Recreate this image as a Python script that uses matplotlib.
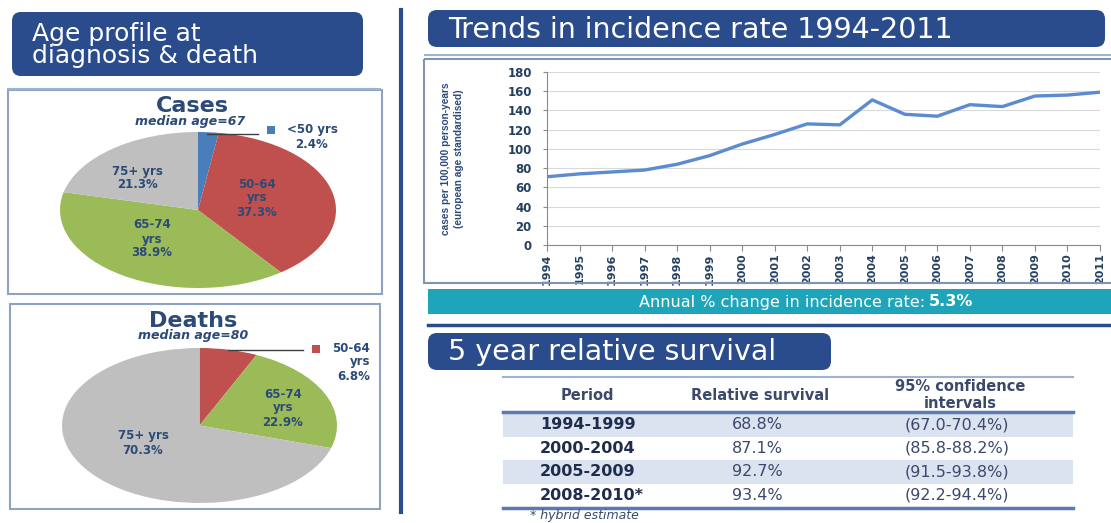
import matplotlib.pyplot as plt
from matplotlib.patches import FancyBboxPatch, Rectangle

# ---------- data ----------
case_groups = ['<50 yrs', '50-64\nyrs', '65-74\nyrs', '75+ yrs']
case_pct = [2.4, 37.3, 38.9, 21.3]
death_groups = ['50-64\nyrs', '65-74\nyrs', '75+ yrs']
death_pct = [6.8, 22.9, 70.3]
case_median = 67
death_median = 80

years = [1994, 1995, 1996, 1997, 1998, 1999, 2000, 2001, 2002,
         2003, 2004, 2005, 2006, 2007, 2008, 2009, 2010, 2011]
incidence = [71, 74, 76, 78, 84, 93, 105, 115, 126,
             125, 151, 136, 134, 146, 144, 155, 156, 159]
annual_change = 5.3

periods = ['1994-1999', '2000-2004', '2005-2009', '2008-2010*']
survival = [68.8, 87.1, 92.7, 93.4]
ci_low = [67.0, 85.8, 91.5, 92.2]
ci_high = [70.4, 88.2, 93.8, 94.4]

# ---------- colours ----------
navy = '#2b4c8c'
txt_blue = '#2c4a78'
teal = '#1fa5b9'
c_blue, c_red, c_green, c_gray = '#4a7ebb', '#c0504d', '#9bbb59', '#bfbfbf'

W, H = 1111, 523
fig = plt.figure(figsize=(W / 100, H / 100), dpi=100)
fig.patch.set_facecolor('white')


def rect(x0, y0, x1, y1):
    # pixel box (top-left origin) -> figure fraction rect
    return [x0 / W, 1 - y1 / H, (x1 - x0) / W, (y1 - y0) / H]


# ---------- pies ----------
ax_c = fig.add_axes(rect(60, 132, 336, 288))
ax_c.pie(case_pct, colors=[c_blue, c_red, c_green, c_gray], startangle=90,
         counterclock=False, wedgeprops=dict(linewidth=0))
ax_c.set_aspect('auto')
ax_c.set_xlim(-1, 1)
ax_c.set_ylim(-1, 1)

ax_d = fig.add_axes(rect(62, 348, 337, 503))
ax_d.pie(death_pct, colors=[c_red, c_green, c_gray], startangle=90,
         counterclock=False, wedgeprops=dict(linewidth=0))
ax_d.set_aspect('auto')
ax_d.set_xlim(-1, 1)
ax_d.set_ylim(-1, 1)

# ---------- line chart ----------
ax = fig.add_axes(rect(547, 72, 1100, 245))
ax.plot(years, incidence, color='#5b8bd0', lw=2.4)
ax.set_xlim(1994, 2011)
ax.set_ylim(0, 180)
ax.set_yticks(range(0, 181, 20))
ax.set_xticks(years)
ax.set_xticklabels([str(y) for y in years], rotation=90)
ax.grid(axis='y', color='#d9d9d9', lw=0.8)
ax.set_axisbelow(True)
for s in ['top', 'right']:
    ax.spines[s].set_visible(False)
for s in ['left', 'bottom']:
    ax.spines[s].set_color('#8a8a8a')
ax.tick_params(axis='y', length=3, pad=8, colors='#8a8a8a', labelcolor='#243f60', labelsize=8.5)
ax.tick_params(axis='x', length=4, pad=2, colors='#8a8a8a', labelcolor='#243f60', labelsize=8)
for lab in ax.get_xticklabels() + ax.get_yticklabels():
    lab.set_fontweight('bold')
ax.set_ylabel('cases per 100,000 person-years\n(european age standardised)',
              family=['Liberation Sans', 'DejaVu Sans'], fontsize=7.3,
              fontweight='bold', color=txt_blue, linespacing=1.35)
ax.yaxis.set_label_coords(-0.15, 0.5)

# ---------- overlay for boxes, headers, table ----------
ov = fig.add_axes([0, 0, 1, 1])
ov.set_xlim(0, W)
ov.set_ylim(H, 0)
ov.axis('off')


def header(x0, y0, x1, y1, text, size, ls=1.0):
    ov.add_patch(FancyBboxPatch((x0, y0), x1 - x0, y1 - y0,
                                boxstyle='round,pad=0,rounding_size=9',
                                fc=navy, ec='none'))
    ov.text(x0 + 20, (y0 + y1) / 2 + 1, text, color='white', fontsize=size,
            ha='left', va='center', linespacing=ls)


header(12, 12, 363, 76, 'Age profile at\ndiagnosis & death', 18, 0.93)
header(428, 10, 1105, 47, 'Trends in incidence rate 1994-2011', 20.5)
header(428, 333, 831, 370, '5 year relative survival', 20.5)

ov.plot([8, 380], [89, 89], color='#9fb2cf', lw=1.5)
ov.plot([425, 1111], [55, 55], color='#9fb2cf', lw=1.5)
ov.plot([401, 401], [10, 512], color=navy, lw=3)

# pie boxes
ov.add_patch(Rectangle((8, 90), 374, 204, fc='none', ec='#8ea3c2', lw=1.5))
ov.add_patch(Rectangle((10, 304), 370, 205, fc='none', ec='#8ea3c2', lw=1.5))

# cases labels
ov.text(192, 106, 'Cases', fontsize=16, fontweight='bold', color=txt_blue, ha='center', va='center')
ov.text(190, 121, f'median age={case_median}', fontsize=9, fontweight='bold', style='italic',
        color=txt_blue, ha='center', va='center')
lab_kw = dict(fontsize=8.5, fontweight='bold', color=txt_blue, ha='center', va='center',
              linespacing=1.1)
ov.text(137, 178, f'{case_groups[3]}\n{case_pct[3]}%', **lab_kw)
ov.text(257, 198, f'{case_groups[1]}\n{case_pct[1]}%', **lab_kw)
ov.text(152, 239, f'{case_groups[2]}\n{case_pct[2]}%', **lab_kw)
ov.plot([207, 258], [134, 134], color='#404040', lw=1)
ov.add_patch(Rectangle((267, 126), 8, 8, fc=c_blue, ec='none'))
ov.text(312, 137, f'{case_groups[0]}\n{case_pct[0]}%', **lab_kw)

# deaths labels
ov.text(193, 321, 'Deaths', fontsize=16, fontweight='bold', color=txt_blue, ha='center', va='center')
ov.text(193, 336, f'median age={death_median}', fontsize=9, fontweight='bold', style='italic',
        color=txt_blue, ha='center', va='center')
ov.text(283, 408, f'{death_groups[1]}\n{death_pct[1]}%', **lab_kw)
ov.text(143, 443, f'{death_groups[2]}\n{death_pct[2]}%', **lab_kw)
ov.plot([228, 303], [350, 350], color='#404040', lw=1)
ov.add_patch(Rectangle((312, 345), 8, 8, fc=c_red, ec='none'))
ov.text(370, 362, f'{death_groups[0]}\n{death_pct[0]}%', fontsize=8.5, fontweight='bold',
        color=txt_blue, ha='right', va='center', multialignment='right', linespacing=1.1)

# line chart box
ov.add_patch(Rectangle((424, 59), 700, 224, fc='none', ec='#7f93b3', lw=1.5))

# teal bar
ov.add_patch(Rectangle((428, 289), 700, 25, fc=teal, ec='none'))
ov.text(925, 302, 'Annual % change in incidence rate:', color='white', fontsize=11.5,
        ha='right', va='center')
ov.text(929, 302, f'{annual_change}%', color='white', fontsize=11.5, fontweight='bold',
        ha='left', va='center')
ov.plot([428, 1111], [325, 325], color=navy, lw=2.5)

# survival table
tab_txt = '#3b4a6b'
ov.plot([503, 1073], [377, 377], color='#9fb2cf', lw=1.5)
hkw = dict(fontsize=10.5, fontweight='bold', color=tab_txt, ha='center', va='center')
ov.text(587, 395, 'Period', **hkw)
ov.text(760, 395, 'Relative survival', **hkw)
ov.text(960, 395, '95% confidence\nintervals', linespacing=1.1, **hkw)
ov.plot([503, 1073], [412, 412], color='#5a7ab0', lw=2.5)
row_top = 413
row_h = 23.5
for i, p in enumerate(periods):
    y0 = row_top + i * row_h
    if i % 2 == 0:
        ov.add_patch(Rectangle((503, y0), 570, row_h, fc='#dbe3f0', ec='none'))
    yc = y0 + row_h / 2
    ov.text(540, yc, p, fontsize=11.5, fontweight='bold', color='#1f2d4d', ha='left', va='center')
    ov.text(757, yc, f'{survival[i]}%', fontsize=11.5, color=tab_txt, ha='center', va='center')
    ov.text(957, yc, f'({ci_low[i]}-{ci_high[i]}%)', fontsize=11.5, color=tab_txt,
            ha='center', va='center')
ov.plot([503, 1073], [508, 508], color='#5a7ab0', lw=2.5)
ov.text(530, 516, '* hybrid estimate', fontsize=9, style='italic', color=tab_txt,
        ha='left', va='center')

fig.savefig('out.png', dpi=100, facecolor='white')
